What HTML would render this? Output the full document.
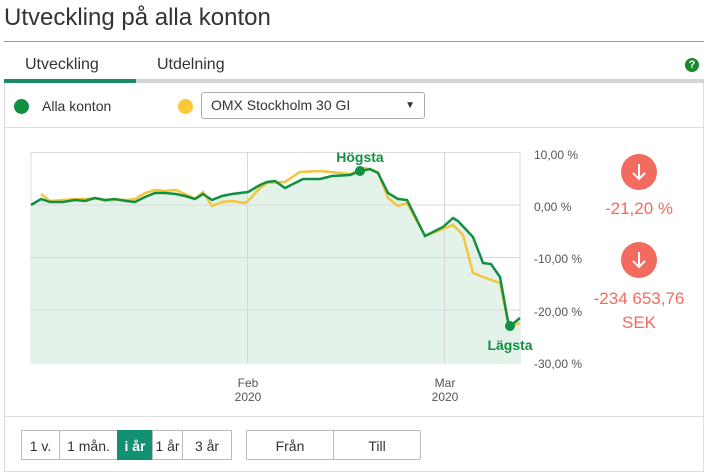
<!DOCTYPE html>
<html><head><meta charset="utf-8"><style>
body{margin:0;width:708px;height:476px;background:#fff;font-family:"Liberation Sans",sans-serif;position:relative;overflow:hidden;color:#333}
.a{position:absolute}
.btn{position:absolute;top:430px;height:30px;border:1px solid #bbb;font-size:14px;line-height:30px;text-align:center;color:#333;box-sizing:border-box}
</style></head><body>
<div class="a" style="left:4px;top:4px;font-size:24px;color:#333">Utveckling på alla konton</div>
<div class="a" style="left:4px;top:41px;width:700px;height:1px;background:#999"></div>
<div class="a" style="left:25px;top:56px;font-size:16px;color:#333">Utveckling</div>
<div class="a" style="left:157px;top:56px;font-size:16px;color:#333">Utdelning</div>
<div class="a" style="left:685px;top:58px;width:14px;height:14px;border-radius:50%;background:#1a8a2a;color:#fff;font-size:11px;font-weight:bold;text-align:center;line-height:14px">?</div>
<div class="a" style="left:4px;top:79px;width:700px;height:4px;background:#d4d4d4"></div>
<div class="a" style="left:4px;top:79px;width:132px;height:4px;background:#1a8a6a"></div>
<div class="a" style="left:4px;top:83px;width:698px;height:388px;border:1px solid #ddd;border-top:none"></div>
<div class="a" style="left:14px;top:99px;width:15px;height:15px;border-radius:50%;background:#129042"></div>
<div class="a" style="left:42px;top:98px;font-size:14px">Alla konton</div>
<div class="a" style="left:178px;top:99px;width:15px;height:15px;border-radius:50%;background:#fcc83a"></div>
<div class="a" style="left:201px;top:92px;width:224px;height:27px;border:1px solid #aaa;border-radius:3px;box-sizing:border-box;font-size:14px;line-height:25px;padding-left:9px">OMX Stockholm 30 GI<span style="position:absolute;right:9px;font-size:10px">▼</span></div>
<div class="a" style="left:5px;top:127px;width:698px;height:1px;background:#ddd"></div>
<div class="a" style="left:5px;top:416px;width:698px;height:1px;background:#ddd"></div>
<svg class="a" style="left:0;top:0" width="708" height="476">
<rect x="31" y="152.5" width="489" height="210.5" fill="#fff" stroke="#ddd"/>
<polygon fill="#e4f3ea" points="31,205 41,199 50,202 63,202 75,200 85,201 95,198 105,200 115,199 126,201 135,202 145,197 155,193 165,193 176,194 185,196 195,199 203,194 212,200 222,196 232,194 248,192 260,185 267,182 275,181 285,188 303,179 320,179 332,176 350,175 360,171 370,169 378,173 388,193 398,199 407,200 425,236 443,227 453,218 458,221 473,237 483,263 491,264 500,277 509,327 520,318 520,363 31,363"/>
<g stroke="#d8d8d8" stroke-width="1">
<line x1="31" y1="205" x2="520" y2="205"/><line x1="31" y1="257.5" x2="520" y2="257.5"/><line x1="31" y1="310" x2="520" y2="310"/>
<line x1="247.5" y1="152" x2="247.5" y2="363"/><line x1="444.5" y1="152" x2="444.5" y2="363"/>
</g>
<polyline fill="none" stroke="#f2c53d" stroke-width="2.5" points="41,194 50,201 63,200 75,199 85,199 95,198 105,201 115,200 126,200 135,199 145,193 155,190 165,191 176,190 185,194 195,199 203,192 212,206 222,202 232,201 245,203 248,201 260,188 267,183 285,182 300,172 320,171 350,174 365,168 378,172 388,198 398,206 407,203 425,236 443,229 453,225 463,235 473,273 483,277 500,283 509,327 520,323"/>
<polyline fill="none" stroke="#129042" stroke-width="2.5" points="31,205 41,199 50,202 63,202 75,200 85,201 95,198 105,200 115,199 126,201 135,202 145,197 155,193 165,193 176,194 185,196 195,199 203,194 212,200 222,196 232,194 248,192 260,185 267,182 275,181 285,188 303,179 320,179 332,176 350,175 360,171 370,169 378,173 388,193 398,199 407,200 425,236 443,227 453,218 458,221 473,237 483,263 491,264 500,277 509,327 520,318"/>
<circle cx="360" cy="171" r="5" fill="#129042"/><circle cx="510" cy="326" r="5" fill="#129042"/>
<text x="360" y="162" fill="#129042" font-size="14" font-weight="bold" text-anchor="middle" font-family="Liberation Sans">Högsta</text>
<text x="510" y="350" fill="#129042" font-size="14" font-weight="bold" text-anchor="middle" font-family="Liberation Sans">Lägsta</text>
<g fill="#555" font-size="12" font-family="Liberation Sans">
<text x="534" y="159">10,00 %</text><text x="534" y="211">0,00 %</text><text x="534" y="263">-10,00 %</text><text x="534" y="316">-20,00 %</text><text x="534" y="368">-30,00 %</text>
<text x="248" y="387" text-anchor="middle">Feb</text><text x="248" y="401" text-anchor="middle">2020</text>
<text x="445" y="387" text-anchor="middle">Mar</text><text x="445" y="401" text-anchor="middle">2020</text>
</g>
<circle cx="639" cy="172" r="18" fill="#f26b5e"/><circle cx="639" cy="260" r="18" fill="#f26b5e"/>
<g stroke="#fff" stroke-width="2" fill="none"><path d="M639 164v15M633 173l6 6 6-6"/><path d="M639 252v15M633 261l6 6 6-6"/></g>
<g fill="#f26b5e" font-size="17" text-anchor="middle" font-family="Liberation Sans">
<text x="639" y="214">-21,20 %</text><text x="639" y="304">-234 653,76</text><text x="639" y="328">SEK</text></g>
</svg>
<div class="btn" style="left:21px;width:39px">1 v.</div>
<div class="btn" style="left:59px;width:59px">1 mån.</div>
<div class="btn" style="left:117px;width:36px;background:#129072;color:#fff;border-color:#129072;font-weight:bold">i år</div>
<div class="btn" style="left:152px;width:31px">1 år</div>
<div class="btn" style="left:182px;width:50px">3 år</div>
<div class="btn" style="left:246px;width:88px;border-radius:2px 0 0 2px">Från</div>
<div class="btn" style="left:333px;width:88px;border-radius:0 2px 2px 0">Till</div>
</body></html>
